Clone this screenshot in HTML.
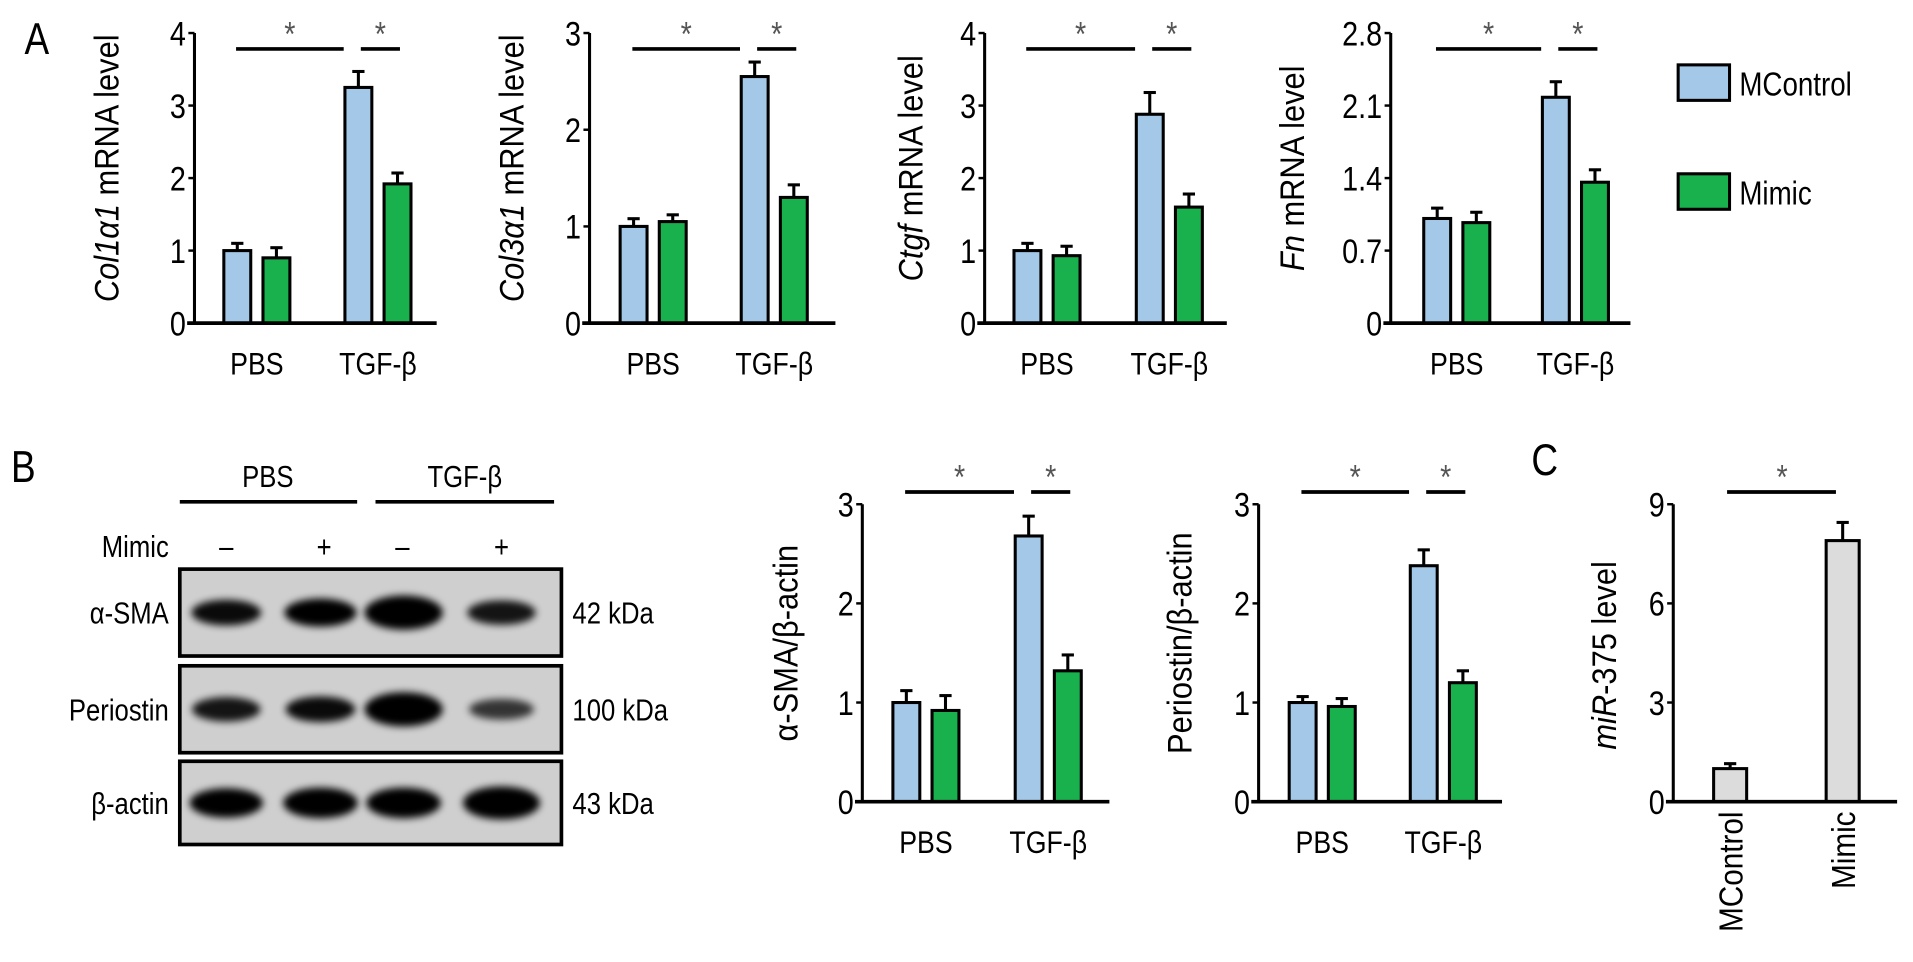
<!DOCTYPE html>
<html><head><meta charset="utf-8">
<style>
html,body{margin:0;padding:0;background:#fff;}
svg{display:block;font-family:"Liberation Sans",Arial,sans-serif;}
</style></head>
<body>
<svg id="fig" width="1913" height="962" viewBox="0 0 1564 786" preserveAspectRatio="none" xmlns="http://www.w3.org/2000/svg">
<defs>
<filter id="blur" x="-20%" y="-50%" width="140%" height="200%"><feGaussianBlur stdDeviation="3"/></filter>
</defs>
<text x="20" y="44" font-size="36">A</text>
<text x="9" y="394" font-size="36">B</text>
<text x="1252" y="388" font-size="36">C</text>

<g>
<rect x="1372" y="53" width="42" height="29" fill="#a4c8e8" stroke="#000" stroke-width="2.5"/>
<text x="1422" y="78" font-size="27">MControl</text>
<rect x="1372" y="142" width="42" height="29" fill="#19b04e" stroke="#000" stroke-width="2.5"/>
<text x="1422" y="167" font-size="27">Mimic</text>
</g>

<g>
<text x="219" y="398" font-size="25" text-anchor="middle">PBS</text>
<text x="380" y="398" font-size="25" text-anchor="middle">TGF-β</text>
<line x1="147" y1="410" x2="292" y2="410" stroke="#000" stroke-width="3"/>
<line x1="307" y1="410" x2="453" y2="410" stroke="#000" stroke-width="3"/>
<text x="138" y="455" font-size="25" text-anchor="end">Mimic</text>
<text x="185" y="455" font-size="25" text-anchor="middle">–</text>
<text x="265" y="455" font-size="25" text-anchor="middle">+</text>
<text x="329" y="455" font-size="25" text-anchor="middle">–</text>
<text x="410" y="455" font-size="25" text-anchor="middle">+</text>
<g id="blots"></g>
</g>
<g id="charts"></g>
</svg>
<script>
const groups = ["PBS", "TGF-β"];
const col1Values = [[1.0, 0.9], [3.25, 1.92]];
const col1Errors = [[0.1, 0.14], [0.22, 0.15]];
const col1Ticks = ["0", "1", "2", "3", "4"];
const col3Values = [[1.0, 1.05], [2.55, 1.3]];
const col3Errors = [[0.08, 0.07], [0.15, 0.13]];
const col3Ticks = ["0", "1", "2", "3"];
const ctgfValues = [[1.0, 0.93], [2.88, 1.6]];
const ctgfErrors = [[0.1, 0.13], [0.3, 0.18]];
const ctgfTicks = ["0", "1", "2", "3", "4"];
const fnValues = [[1.01, 0.97], [2.18, 1.36]];
const fnErrors = [[0.1, 0.1], [0.15, 0.12]];
const fnTicks = ["0", "0.7", "1.4", "2.1", "2.8"];
const smaValues = [[1.0, 0.92], [2.68, 1.32]];
const smaErrors = [[0.12, 0.15], [0.2, 0.16]];
const smaTicks = ["0", "1", "2", "3"];
const postnValues = [[1.0, 0.96], [2.38, 1.2]];
const postnErrors = [[0.06, 0.08], [0.16, 0.12]];
const postnTicks = ["0", "1", "2", "3"];
const mirCategories = ["MControl", "Mimic"];
const mirValues = [1.0, 7.9];
const mirErrors = [0.15, 0.55];
const mirTicks = ["0", "3", "6", "9"];
const blotRows = ["α-SMA", "Periostin", "β-actin"];
const blotSizes = ["42 kDa", "100 kDa", "43 kDa"];
const blotIntensity = [[0.65, 0.75, 1.0, 0.6], [0.6, 0.65, 1.0, 0.45], [0.8, 0.85, 0.85, 0.95]];

const NS = "http://www.w3.org/2000/svg";
const COLORS = ["#a4c8e8", "#19b04e"];
function mk(tag, attrs, parent) {
  const e = document.createElementNS(NS, tag);
  for (const k in attrs) e.setAttribute(k, attrs[k]);
  parent.appendChild(e);
  return e;
}
const root = document.getElementById("charts");

function groupedChart(c) {
  const g = mk("g", {}, root);
  
  
  const max = parseFloat(c.ticks[c.ticks.length - 1]);
  const y = v => c.base - (v / max) * (c.base - c.top);
  const ax = mk("line", {x1: c.ax, y1: c.top, x2: c.ax, y2: c.base, stroke: "#000", "stroke-width": 2.5}, g);
  
  
  c.ticks.forEach(t => {
    const v = parseFloat(t);
    mk("line", {x1: c.ax - 5, y1: y(v), x2: c.ax, y2: y(v), stroke: "#000", "stroke-width": 2}, g);
    const tl = mk("text", {x: c.ax - 7, y: y(v) + 10, "font-size": 28, "text-anchor": "end"}, g);
    tl.textContent = t;
    
    
  });
  const tt = mk("text", {"data-sx": "0.9", transform: `translate(${c.tx},${(c.top + c.base) / 2 - 8}) rotate(-90)`, "font-size": 28, "text-anchor": "middle"}, g);
  tt.innerHTML = c.title;
  
  
  const bw = 22;
  c.values.forEach((pair, gi) => {
    pair.forEach((v, si) => {
      const x = c.barX[gi] + si * (bw + 10);
      const e = c.errors[gi][si];
      mk("line", {x1: x + bw / 2, y1: y(v), x2: x + bw / 2, y2: y(v + e), stroke: "#000", "stroke-width": 2.5}, g);
      mk("line", {x1: x + bw / 2 - 5, y1: y(v + e), x2: x + bw / 2 + 5, y2: y(v + e), stroke: "#000", "stroke-width": 2.5}, g);
      const r = mk("rect", {x: x, y: y(v), width: bw, height: c.base - y(v), fill: COLORS[si], stroke: "#000", "stroke-width": 2.5}, g);
      
      
    });
    const lbl = mk("text", {x: c.barX[gi] + 27, y: c.base + 42, "font-size": 26, "text-anchor": "middle"}, g);
    lbl.textContent = groups[gi];
    
    
  });
  const bl = mk("line", {x1: c.ax - 6, y1: c.base, x2: c.bx2, y2: c.base, stroke: "#000", "stroke-width": 3}, g);
  
  
  const sy = c.sy;
  [[c.barX[0] + 10, c.barX[1] - 1], [c.barX[1] + 13, c.barX[1] + 45]].forEach(([a, b]) => {
    const l = mk("line", {x1: a, y1: sy, x2: b, y2: sy, stroke: "#000", "stroke-width": 3}, g);
    
    
    const s = mk("text", {x: (a + b) / 2, y: sy - 3, "font-size": 28, "text-anchor": "middle", fill: "#555"}, g);
    s.textContent = "*";
    
    
  });
}

groupedChart({name: "chart-col1a1", ax: 159, top: 27, base: 264, bx2: 357, barX: [183, 282], values: col1Values, errors: col1Errors, ticks: col1Ticks, sy: 40, tx: 97, title: '<tspan font-style="italic">Col1α1</tspan> mRNA level'});
groupedChart({name: "chart-col3a1", ax: 482, top: 27, base: 264, bx2: 683, barX: [507, 606], values: col3Values, errors: col3Errors, ticks: col3Ticks, sy: 40, tx: 428, title: '<tspan font-style="italic">Col3α1</tspan> mRNA level'});
groupedChart({name: "chart-ctgf", ax: 805, top: 27, base: 264, bx2: 1003, barX: [829, 929], values: ctgfValues, errors: ctgfErrors, ticks: ctgfTicks, sy: 40, tx: 754, title: '<tspan font-style="italic">Ctgf</tspan> mRNA level'});
groupedChart({name: "chart-fn", ax: 1137, top: 27, base: 264, bx2: 1333, barX: [1164, 1261], values: fnValues, errors: fnErrors, ticks: fnTicks, sy: 40, tx: 1066, title: '<tspan font-style="italic">Fn</tspan> mRNA level'});
groupedChart({name: "chart-asma", ax: 705, top: 412, base: 655, bx2: 907, barX: [730, 830], values: smaValues, errors: smaErrors, ticks: smaTicks, sy: 402, tx: 652, title: 'α-SMA/β-actin'});
groupedChart({name: "chart-periostin", ax: 1029, top: 412, base: 655, bx2: 1228, barX: [1054, 1153], values: postnValues, errors: postnErrors, ticks: postnTicks, sy: 402, tx: 974, title: 'Periostin/β-actin'});

(function () {
  const g = mk("g", {}, root);
  
  
  const ax = 1368, top = 412, base = 655;
  const max = parseFloat(mirTicks[mirTicks.length - 1]);
  const y = v => base - (v / max) * (base - top);
  mk("line", {x1: ax, y1: top, x2: ax, y2: base, stroke: "#000", "stroke-width": 2.5}, g);
  mirTicks.forEach(t => {
    const v = parseFloat(t);
    mk("line", {x1: ax - 5, y1: y(v), x2: ax, y2: y(v), stroke: "#000", "stroke-width": 2}, g);
    const tl = mk("text", {x: ax - 7, y: y(v) + 10, "font-size": 28, "text-anchor": "end"}, g);
    tl.textContent = t;
    
    
  });
  const tt = mk("text", {"data-sx": "0.9", transform: `translate(1321,${(top + base) / 2 + 2}) rotate(-90)`, "font-size": 28, "text-anchor": "middle"}, g);
  tt.innerHTML = '<tspan font-style="italic">miR</tspan>-375 level';
  
  
  const xs = [1401, 1493], bw = 27;
  mirValues.forEach((v, i) => {
    const x = xs[i], e = mirErrors[i];
    mk("line", {x1: x + bw / 2, y1: y(v), x2: x + bw / 2, y2: y(v + e), stroke: "#000", "stroke-width": 2.5}, g);
    mk("line", {x1: x + bw / 2 - 5, y1: y(v + e), x2: x + bw / 2 + 5, y2: y(v + e), stroke: "#000", "stroke-width": 2.5}, g);
    const r = mk("rect", {x: x, y: y(v), width: bw, height: base - y(v), fill: "#dcdcdc", stroke: "#000", "stroke-width": 2.5}, g);
    
    
    const lbl = mk("text", {"data-sx": "0.9", transform: `translate(${x + bw / 2 + 10},663) rotate(-90)`, "font-size": 27, "text-anchor": "end"}, g);
    lbl.textContent = mirCategories[i];
    
    
  });
  mk("line", {x1: ax - 6, y1: base, x2: 1551, y2: base, stroke: "#000", "stroke-width": 3}, g);
  const l = mk("line", {x1: 1412, y1: 402, x2: 1501, y2: 402, stroke: "#000", "stroke-width": 3}, g);
  
  
  const s = mk("text", {x: 1457, y: 399, "font-size": 28, "text-anchor": "middle", fill: "#555"}, g);
  s.textContent = "*";
  
  
})();

(function () {
  const bg = document.getElementById("blots");
  const boxes = [[465, 536], [544, 615], [622, 690]];
  const laneX = [185, 262, 330, 410];
  blotRows.forEach((name, r) => {
    const [y1, y2] = boxes[r];
    const cy = (y1 + y2) / 2;
    const row = mk("g", {}, bg);
    
    
    mk("rect", {x: 147, y: y1, width: 312, height: y2 - y1, fill: "#cfcfcf", stroke: "#000", "stroke-width": 3}, row);
    blotIntensity[r].forEach((v, i) => {
      mk("ellipse", {cx: laneX[i], cy: cy, rx: 22 + 10 * v, ry: 4 + 10 * v, fill: "#000", opacity: Math.min(1, 0.3 + v), filter: "url(#blur)"}, row);
    });
    const t = mk("text", {x: 138, y: cy + 9, "font-size": 25, "text-anchor": "end"}, row);
    t.textContent = name;
    
    
    const k = mk("text", {x: 468, y: cy + 9, "font-size": 25}, row);
    k.textContent = blotSizes[r];
    
    
  });
})();

// condense all text horizontally (reference uses a narrow sans face)
document.querySelectorAll("#fig text").forEach(t => {
  const sx = t.getAttribute("data-sx") || "0.84";
  const tr = t.getAttribute("transform");
  if (tr) {
    t.setAttribute("transform", tr + ` scale(${sx},1)`);
  } else {
    const x = t.getAttribute("x") || 0, y = t.getAttribute("y") || 0;
    t.setAttribute("x", 0); t.setAttribute("y", 0);
    t.setAttribute("transform", `translate(${x},${y}) scale(${sx},1)`);
  }
});
</script>
</body></html>
